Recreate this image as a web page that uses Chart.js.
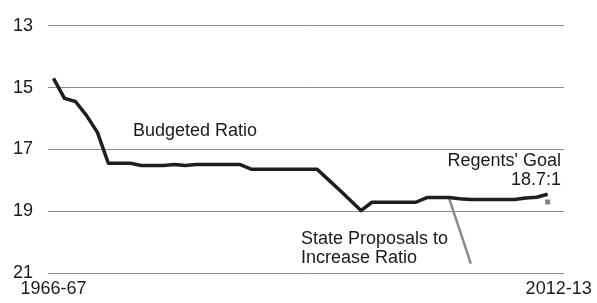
<!DOCTYPE html>
<html>
<head>
<meta charset="utf-8">
<script src="https://cdn.jsdelivr.net/npm/chart.js@4"></script>
<style>
  body { margin: 0; background: #fff; }
  #wrap { width: 597px; height: 303px; }
</style>
</head>
<body>
<div id="wrap"><canvas id="myChart" width="597" height="303"></canvas></div>
<script>
// years on the x axis (only first and last are labelled)
const years = [
  "1966-67", "1967-68", "1968-69", "1969-70", "1970-71", "1971-72", "1972-73", "1973-74",
  "1974-75", "1975-76", "1976-77", "1977-78", "1978-79", "1979-80", "1980-81", "1981-82",
  "1982-83", "1983-84", "1984-85", "1985-86", "1986-87", "1987-88", "1988-89", "1989-90",
  "1990-91", "1991-92", "1992-93", "1993-94", "1994-95", "1995-96", "1996-97", "1997-98",
  "1998-99", "1999-00", "2000-01", "2001-02", "2002-03", "2003-04", "2004-05", "2005-06",
  "2006-07", "2007-08", "2008-09", "2009-10", "2010-11", "2011-12", "2012-13"
];

// student-faculty ratio
const budgetedRatio = [
  14.7, 15.35, 15.45, 15.9, 16.45, 17.45, 17.45, 17.45,
  17.52, 17.52, 17.52, 17.49, 17.52, 17.49, 17.49, 17.49,
  17.49, 17.49, 17.64, 17.64, 17.64, 17.64, 17.64, 17.64,
  17.64, 17.97, 18.3, 18.64, 18.98, 18.71, 18.71, 18.71,
  18.71, 18.71, 18.56, 18.56, 18.56, 18.6, 18.62, 18.62,
  18.62, 18.62, 18.62, 18.57, 18.55, 18.45, null
];

const stateProposals = [
  null, null, null, null, null, null, null, null,
  null, null, null, null, null, null, null, null,
  null, null, null, null, null, null, null, null,
  null, null, null, null, null, null, null, null,
  null, null, null, null, 18.56, 19.62, 20.7, null,
  null, null, null, null, null, null, null
];

const regentsGoal = [
  null, null, null, null, null, null, null, null,
  null, null, null, null, null, null, null, null,
  null, null, null, null, null, null, null, null,
  null, null, null, null, null, null, null, null,
  null, null, null, null, null, null, null, null,
  null, null, null, null, null, 18.7, null
];

const yTicks = [13, 15, 17, 19, 21];

const FONT = "'Liberation Sans', Arial, sans-serif";

// text labels written on the plot
const notes = {
  id: "notes",
  afterDraw(chart) {
    const c = chart.ctx;
    c.save();
    c.fillStyle = "#1a1a1a";
    c.font = "18px " + FONT;
    c.textBaseline = "middle";
    c.textAlign = "left";
    c.fillText("Budgeted Ratio", 133, 131);
    c.fillText("State Proposals to", 301, 239);
    c.fillText("Increase Ratio", 301, 258);
    c.textAlign = "right";
    c.fillText("Regents' Goal", 561, 161);
    c.fillText("18.7:1", 561, 180);
    c.restore();
  }
};

const ctx = document.getElementById("myChart");

new Chart(ctx, {
  type: "line",
  data: {
    labels: years,
    datasets: [
      {
        label: "Budgeted Ratio",
        data: budgetedRatio,
        borderColor: "#1e1e1e",
        borderWidth: 3.5,
        pointRadius: 0,
        tension: 0,
        borderJoinStyle: "round",
        spanGaps: false
      },
      {
        label: "State Proposals to Increase Ratio",
        data: stateProposals,
        borderColor: "#8a8a8a",
        borderWidth: 2.5,
        pointRadius: 0,
        tension: 0
      },
      {
        label: "Regents' Goal",
        data: regentsGoal,
        showLine: false,
        pointStyle: "rect",
        pointRadius: 3.5,
        pointBackgroundColor: "#808080",
        pointBorderWidth: 0
      }
    ]
  },
  options: {
    responsive: false,
    animation: false,
    layout: { padding: { top: 21, right: 30, left: 0, bottom: 0 } },
    plugins: {
      legend: { display: false },
      tooltip: { enabled: false }
    },
    scales: {
      x: {
        type: "category",
        offset: true,
        grid: { display: false, drawTicks: false },
        border: { display: false },
        ticks: {
          autoSkip: false,
          maxRotation: 0,
          padding: 5,
          color: "#1a1a1a",
          font: { family: FONT, size: 18 },
          callback: (v, i) => (i === 0 || i === years.length - 1 ? years[i] : "")
        },
        afterFit: (scale) => { scale.height = 30; }
      },
      y: {
        reverse: true,
        min: 13,
        max: 21,
        afterBuildTicks: (scale) => { scale.ticks = yTicks.map((v) => ({ value: v })); },
        grid: { color: "#8c8c8c", lineWidth: 1, drawTicks: false },
        border: { display: false },
        ticks: {
          padding: 15,
          color: "#1a1a1a",
          font: { family: FONT, size: 18 }
        },
        afterFit: (scale) => { scale.width = 48; }
      }
    }
  },
  plugins: [notes]
});
</script>
</body>
</html>
